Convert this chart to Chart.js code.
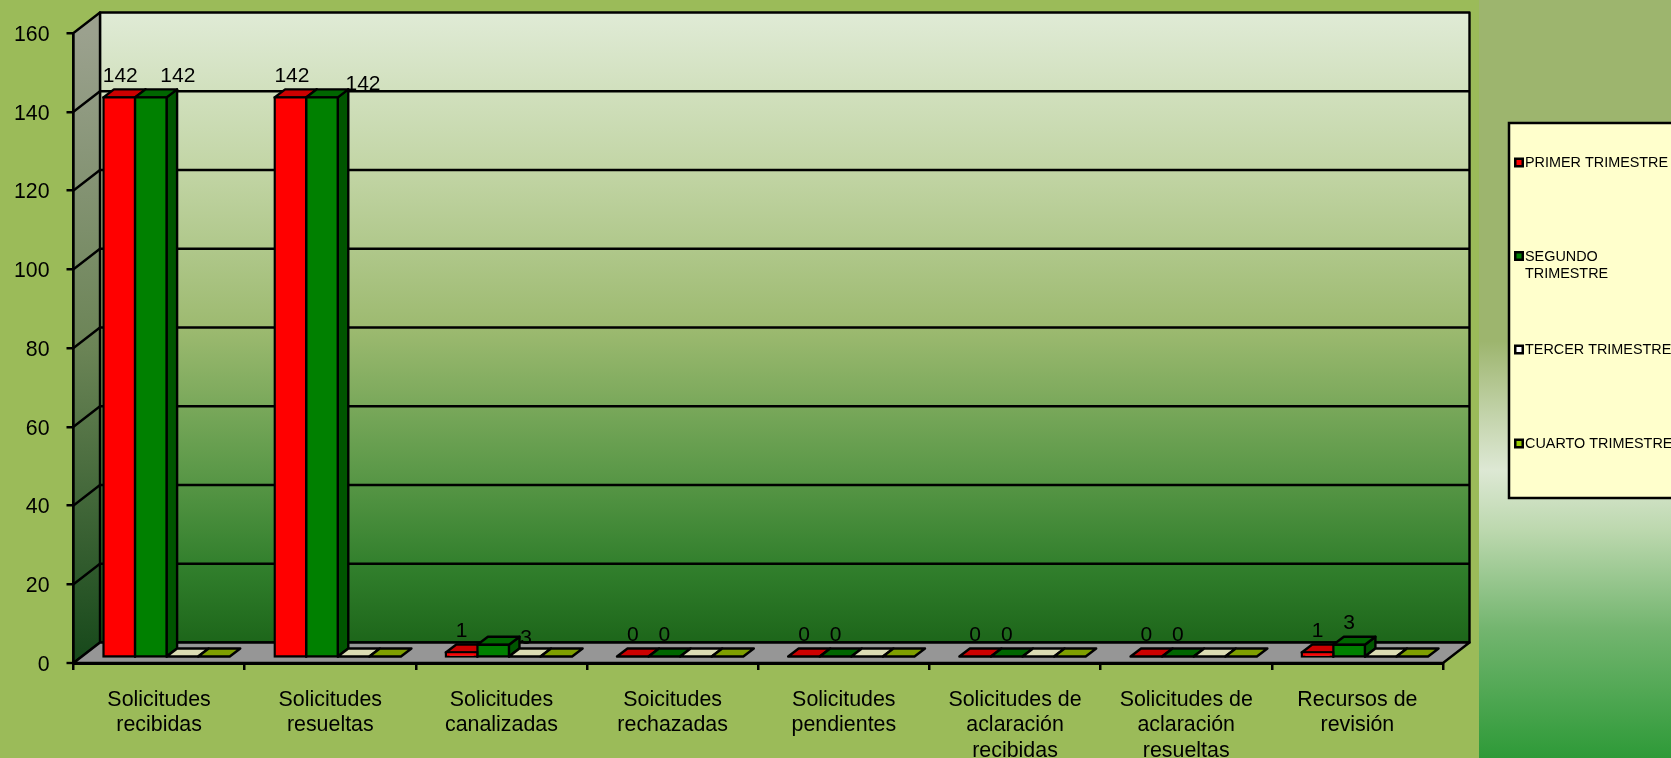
<!DOCTYPE html>
<html>
<head>
<meta charset="utf-8">
<style>
  html, body { margin: 0; padding: 0; overflow: hidden; }
  body {
    width: 1671px; height: 758px; position: relative;
    background: #9bbb59;
  }
  #strip {
    position: absolute; left: 1479px; top: 0; width: 192px; height: 758px;
    background: linear-gradient(to bottom, #9db56e 0%, #9db56e 45%, #c4d4ac 55%, #dde8d4 62%, #bcd8ae 70%, #73b56f 83%, #2e9a38 100%);
  }
  #wrap { position: absolute; left: 0; top: 0; width: 1671px; height: 758px; }
</style>
<script src="https://cdn.jsdelivr.net/npm/chart.js@4"></script>
</head>
<body>
<div id="strip"></div>
<div id="wrap"><canvas id="myChart" width="1671" height="758"></canvas></div>
<script>
const categories = [
  ['Solicitudes', 'recibidas'],
  ['Solicitudes', 'resueltas'],
  ['Solicitudes', 'canalizadas'],
  ['Soicitudes', 'rechazadas'],
  ['Solicitudes', 'pendientes'],
  ['Solicitudes de', 'aclaración', 'recibidas'],
  ['Solicitudes de', 'aclaración', 'resueltas'],
  ['Recursos de', 'revisión']
];
const primer = [142, 142, 1, 0, 0, 0, 0, 1];
const segundo = [142, 142, 3, 0, 0, 0, 0, 3];
const tercer = [0, 0, 0, 0, 0, 0, 0, 0];
const cuarto = [0, 0, 0, 0, 0, 0, 0, 0];
const seriesNames = ['PRIMER TRIMESTRE', 'SEGUNDO TRIMESTRE', 'TERCER TRIMESTRE', 'CUARTO TRIMESTRE'];
const yTicks = [0, 20, 40, 60, 80, 100, 120, 140, 160];

const FONT = '"Liberation Sans", Arial, sans-serif';
// depth of the box and of the bars, in pixels
const box = { dx: 26.5, dy: -20.5 };
const bar = { shiftX: 7.5, shiftY: -6.5, dx: 10.5, dy: -8 };

// per series: front, top, side colours
const colours = [
  { front: '#ff0000', top: '#cc0000', side: '#990000', key: '#ff0000' },
  { front: '#008000', top: '#006600', side: '#005500', key: '#008000' },
  { front: '#ffffcc', top: '#dcdcb4', side: '#a8a888', key: '#ffffff' },
  { front: '#99cc00', top: '#7f9f00', side: '#5c7a00', key: '#99cc00' }
];

// the value labels were moved by hand in the original
const labelNudge = {
  '0,0': [1, -21.5], '1,0': [27, -21.5],
  '0,1': [1.5, -21.5], '1,1': [41, -13.5],
  '1,2': [33, -6]
};

const poly = (ctx, pts, fill) => {
  ctx.beginPath();
  pts.forEach((p, i) => i ? ctx.lineTo(p[0], p[1]) : ctx.moveTo(p[0], p[1]));
  ctx.closePath();
  ctx.fillStyle = fill;
  ctx.fill();
  ctx.stroke();
};

const boxPlugin = {
  id: 'box',
  beforeDatasetsDraw(chart) {
    const { ctx, scales: { x, y } } = chart;
    const l = x.left, r = x.right, b = y.getPixelForValue(0), t = y.getPixelForValue(160);
    const { dx, dy } = box;
    ctx.save();
    ctx.lineWidth = 2.4;
    ctx.strokeStyle = '#000';
    ctx.lineJoin = 'round';

    const wall = ctx.createLinearGradient(0, t + dy, 0, b + dy);
    wall.addColorStop(0, '#e0ebd6');
    wall.addColorStop(0.25, '#c2d5a5');
    wall.addColorStop(0.5, '#9dba70');
    wall.addColorStop(0.72, '#5e9a4a');
    wall.addColorStop(0.88, '#317f2c');
    wall.addColorStop(1, '#1d661a');
    poly(ctx, [[l + dx, t + dy], [r + dx, t + dy], [r + dx, b + dy], [l + dx, b + dy]], wall);

    const sideWall = ctx.createLinearGradient(0, t, 0, b);
    sideWall.addColorStop(0, '#9ba18e');
    sideWall.addColorStop(0.5, '#6b8456');
    sideWall.addColorStop(1, '#16481a');
    poly(ctx, [[l, t], [l + dx, t + dy], [l + dx, b + dy], [l, b]], sideWall);

    poly(ctx, [[l, b], [l + dx, b + dy], [r + dx, b + dy], [r, b]], '#969696');

    // zero tick, its grid width is 0 so that bars reach the real base
    ctx.beginPath();
    ctx.moveTo(l - 7, b);
    ctx.lineTo(l, b);
    ctx.stroke();

    yTicks.forEach(v => {
      if (v === 0 || v === 160) return;
      const py = y.getPixelForValue(v);
      ctx.beginPath();
      ctx.moveTo(l, py);
      ctx.lineTo(l + dx, py + dy);
      ctx.lineTo(r + dx, py + dy);
      ctx.stroke();
    });

    // bar sides and tops, behind the fronts the library draws
    ctx.lineWidth = 2.4;
    chart.data.datasets.forEach((ds, i) => {
      chart.getDatasetMeta(i).data.forEach(el => {
        const p = el.getProps(['x', 'y', 'base', 'width'], true);
        const x0 = p.x - p.width / 2 + bar.shiftX, x1 = p.x + p.width / 2 + bar.shiftX;
        const yt = p.y + bar.shiftY, yb = p.base + bar.shiftY;
        if (yb - yt > 0.5) {
          poly(ctx, [[x1, yt], [x1 + bar.dx, yt + bar.dy], [x1 + bar.dx, yb + bar.dy], [x1, yb]], colours[i].side);
        }
        poly(ctx, [[x0, yt], [x0 + bar.dx, yt + bar.dy], [x1 + bar.dx, yt + bar.dy], [x1, yt]], colours[i].top);
      });
    });
    ctx.restore();
    // the fronts stand in the middle of the floor
    ctx.save();
    ctx.translate(bar.shiftX, bar.shiftY);
  },
  afterDatasetsDraw(chart) {
    const { ctx } = chart;
    ctx.restore();

    // value labels
    ctx.save();
    ctx.font = '21px ' + FONT;
    ctx.fillStyle = '#000';
    ctx.textAlign = 'center';
    ctx.textBaseline = 'middle';
    [0, 1].forEach(i => {
      chart.getDatasetMeta(i).data.forEach((el, j) => {
        const nudge = labelNudge[i + ',' + j] || [0, -21.5];
        ctx.fillText(String(chart.data.datasets[i].data[j]), el.x + bar.shiftX + nudge[0], el.y + bar.shiftY + nudge[1]);
      });
    });
    ctx.restore();

    // legend, runs off the right edge like the original
    ctx.save();
    ctx.fillStyle = '#ffffcc';
    ctx.strokeStyle = '#000';
    ctx.lineWidth = 2.5;
    ctx.fillRect(1509, 123, 200, 375);
    ctx.strokeRect(1509, 123, 200, 375);
    ctx.font = '14.4px ' + FONT;
    ctx.textBaseline = 'middle';
    const legendLines = [['PRIMER TRIMESTRE'], ['SEGUNDO', 'TRIMESTRE'], ['TERCER TRIMESTRE'], ['CUARTO TRIMESTRE']];
    const legendY = [162.5, 256, 349.5, 443.5];
    legendLines.forEach((lines, i) => {
      ctx.fillStyle = '#000';
      ctx.fillRect(1514, legendY[i] - 5, 10, 10);
      ctx.fillStyle = colours[i].key;
      ctx.fillRect(1516.5, legendY[i] - 2.5, 5, 5);
      ctx.fillStyle = '#000';
      lines.forEach((s, k) => ctx.fillText(s, 1525, legendY[i] + 1 + k * 17));
    });
    ctx.restore();
  }
};

const makeSet = (i, values) => ({
  label: seriesNames[i],
  data: values,
  backgroundColor: colours[i].front,
  borderColor: '#000',
  borderWidth: 2.4,
  borderSkipped: false,
  inflateAmount: 1.2,
  clip: false
});

const myChart = new Chart(document.getElementById('myChart'), {
  type: 'bar',
  data: {
    labels: categories,
    datasets: [makeSet(0, primer), makeSet(1, segundo), makeSet(2, tercer), makeSet(3, cuarto)]
  },
  plugins: [boxPlugin],
  options: {
    responsive: false,
    animation: false,
    devicePixelRatio: 1,
    layout: { padding: { top: 33, right: 228, left: 0, bottom: 0 } },
    plugins: { legend: { display: false }, tooltip: { enabled: false } },
    datasets: { bar: { categoryPercentage: 0.738, barPercentage: 1 } },
    scales: {
      x: {
        grid: { drawOnChartArea: false, drawTicks: true, tickLength: 7, color: '#000', lineWidth: 2.5 },
        border: { color: '#000', width: 3 },
        ticks: {
          color: '#000', autoSkip: false, maxRotation: 0, padding: 17,
          font: { family: FONT, size: 21.4 }
        },
        afterFit(s) { s.height = 95; }
      },
      y: {
        min: 0, max: 160,
        grid: {
          drawOnChartArea: false, tickLength: 7, color: '#000',
          lineWidth: c => (c.tick && c.tick.value === 0 ? 0 : 2.5)
        },
        border: { color: '#000', width: 3 },
        ticks: {
          color: '#000', stepSize: 20, padding: 17, labelOffset: 2,
          font: { family: FONT, size: 21.3 }
        },
        afterFit(s) { s.width = 73.5; }
      }
    }
  }
});
</script>
</body>
</html>
